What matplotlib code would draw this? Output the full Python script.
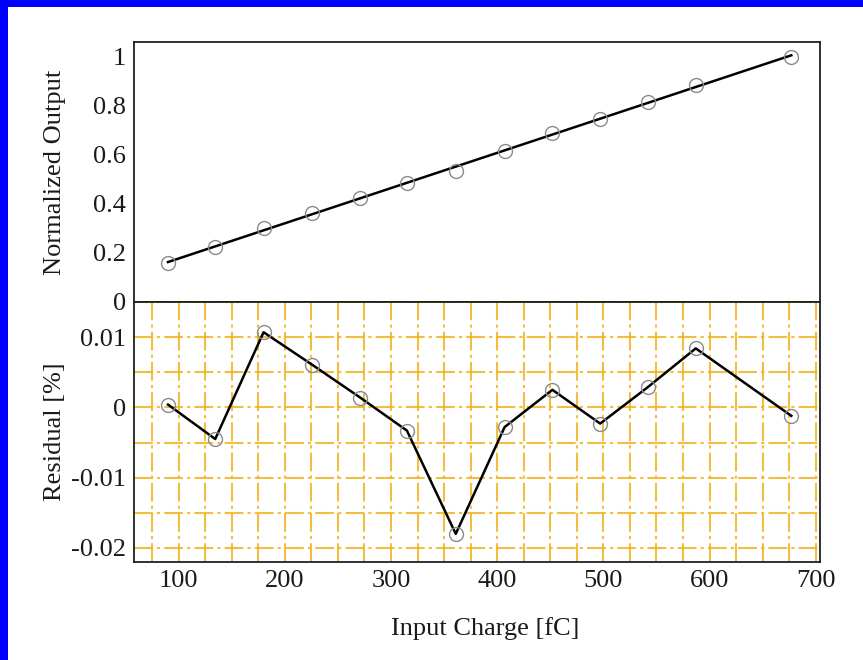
import numpy as np
import matplotlib
matplotlib.use("Agg")
import matplotlib.pyplot as plt
from matplotlib.ticker import MultipleLocator, FixedLocator
from matplotlib.patches import Rectangle

# Input charge of each calibration step [fC]
charge = [90, 134.5, 180, 225.5, 271, 315, 361, 407, 452, 497, 542, 587, 677]
# Normalized output measured at each step
norm_output = [0.159, 0.224, 0.302, 0.363, 0.424, 0.485, 0.534, 0.616,
               0.689, 0.746, 0.815, 0.885, 1.0]
# Residual from the linear fit [%]
residual = [0.0004, -0.0045, 0.0107, 0.0061, 0.0014, -0.0033, -0.018,
            -0.0028, 0.0025, -0.0023, 0.0029, 0.0084, -0.0012]

out_ticks = [0, 0.2, 0.4, 0.6, 0.8, 1]
out_tick_labels = ["0", "0.2", "0.4", "0.6", "0.8", "1"]
res_ticks = [-0.02, -0.01, 0, 0.01]
res_tick_labels = ["-0.02", "-0.01", "0", "0.01"]
charge_ticks = [100, 200, 300, 400, 500, 600, 700]

plt.rcParams["font.family"] = ["Liberation Serif", "DejaVu Serif"]
text_color = "#1a1a1a"
fs = 19

fig = plt.figure(figsize=(8.63, 6.60), dpi=100)
fig.patch.set_facecolor("white")

W, H = 863, 660
left, right = 134 / W, 820 / W
ax_top = fig.add_axes([left, 1 - 302 / H, right - left, 260 / H])
ax_bot = fig.add_axes([left, 1 - 562 / H, right - left, 260 / H])

# Blue frame strips along the top and left edges
fig.patches.append(Rectangle((0, 0), 8 / W, 1, transform=fig.transFigure,
                             facecolor="#0000ff", edgecolor="none", zorder=10))
fig.patches.append(Rectangle((0, 1 - 7 / H), 1, 7 / H, transform=fig.transFigure,
                             facecolor="#0000ff", edgecolor="none", zorder=10))

xlim = (58, 704)
marker_kw = dict(marker="o", markersize=10, markerfacecolor="none",
                 markeredgecolor="#8a8a8a", markeredgewidth=1.0, linestyle="none")

# Upper panel: normalized output with linear fit
slope, intercept = np.polyfit(charge, norm_output, 1)
xfit = np.array([charge[0], charge[-1]])
ax_top.plot(xfit, slope * xfit + intercept, color="black", lw=1.8, zorder=3)
ax_top.plot(charge, norm_output, zorder=4, **marker_kw)
ax_top.set_xlim(*xlim)
ax_top.set_ylim(0, 1.06)
ax_top.yaxis.set_major_locator(FixedLocator(out_ticks))
ax_top.set_yticklabels(out_tick_labels)
ax_top.set_xticks([])
ax_top.set_ylabel("Normalized Output", fontsize=fs, color=text_color)
ax_top.yaxis.set_label_coords(-0.099, 0.5)

# Lower panel: residuals on graph-paper grid
ax_bot.plot(charge, residual, color="black", lw=1.8, zorder=3)
ax_bot.plot(charge, residual, zorder=4, **marker_kw)
ax_bot.set_xlim(*xlim)
ax_bot.set_ylim(-0.022, 0.015)
ax_bot.yaxis.set_major_locator(FixedLocator(res_ticks))
ax_bot.set_yticklabels(res_tick_labels)
ax_bot.xaxis.set_major_locator(FixedLocator(charge_ticks))
ax_bot.xaxis.set_minor_locator(MultipleLocator(25))
ax_bot.yaxis.set_minor_locator(MultipleLocator(0.005))
grid_kw = dict(color="#f2b21e", linewidth=1.5, dashes=(9, 2, 1.5, 2), alpha=0.85)
ax_bot.grid(True, which="both", axis="both", **grid_kw)
ax_bot.set_axisbelow(True)
ax_bot.set_ylabel("Residual [%]", fontsize=fs, color=text_color)
ax_bot.yaxis.set_label_coords(-0.099, 0.5)
ax_bot.set_xlabel("Input Charge [fC]", fontsize=fs, color=text_color)
ax_bot.xaxis.set_label_coords(0.512, -0.212)

for ax in (ax_top, ax_bot):
    for sp in ax.spines.values():
        sp.set_linewidth(1.3)
        sp.set_color("#202020")
    ax.tick_params(axis="both", which="both", length=0, labelsize=fs,
                   labelcolor=text_color, pad=6)

fig.savefig("out.png", dpi=100, facecolor="white")
